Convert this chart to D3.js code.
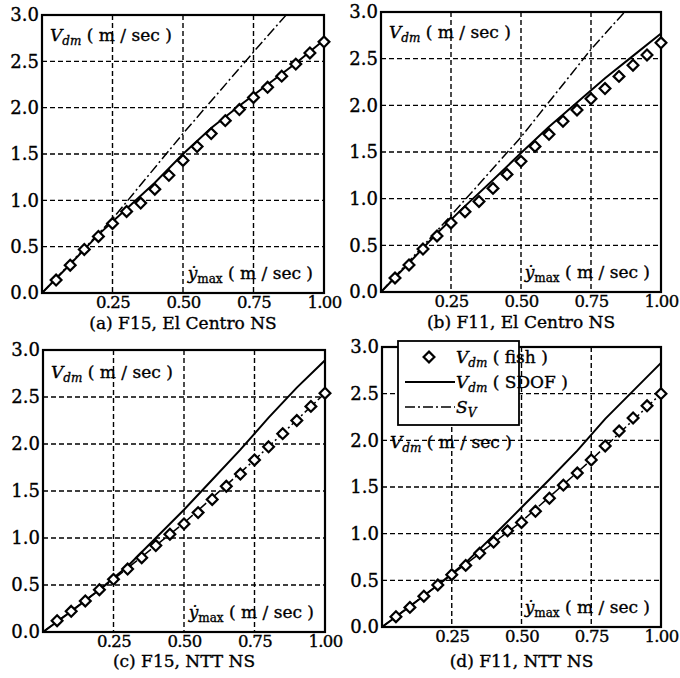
<!DOCTYPE html>
<html>
<head>
<meta charset="utf-8">
<script src="https://cdn.jsdelivr.net/npm/d3@7"></script>
<style>
  body { margin: 0; background: #fff; }
  svg { display: block; }
  text { font-family: "DejaVu Serif", "Liberation Serif", serif; fill: #000; stroke: #000; stroke-width: 0.35px; }
</style>
</head>
<body>
<svg id="chart" width="680" height="678"></svg>
<script>
// ---------------- DATA ----------------
const fishX = [0.05,0.10,0.15,0.20,0.25,0.30,0.35,0.40,0.45,0.50,0.55,0.60,0.65,0.70,0.75,0.80,0.85,0.90,0.95,1.00];
const fishA = [0.14,0.30,0.47,0.61,0.75,0.88,0.97,1.12,1.27,1.43,1.58,1.72,1.86,1.98,2.11,2.22,2.34,2.47,2.59,2.71];
const fishB = [0.15,0.29,0.46,0.60,0.74,0.86,0.97,1.11,1.26,1.40,1.56,1.69,1.83,1.95,2.07,2.18,2.31,2.43,2.54,2.67];
const fishC = [0.12,0.22,0.33,0.45,0.56,0.67,0.79,0.92,1.04,1.15,1.27,1.41,1.55,1.68,1.83,1.97,2.11,2.25,2.40,2.54];
const fishD = [0.11,0.21,0.33,0.45,0.56,0.66,0.79,0.91,1.03,1.12,1.24,1.38,1.52,1.65,1.79,1.94,2.10,2.24,2.37,2.50];

const sdofX = [0,0.1,0.2,0.3,0.4,0.5,0.6,0.7,0.8,0.9,1.0];
const sdofA = [0,0.31,0.63,0.91,1.19,1.50,1.78,2.02,2.25,2.48,2.73];
const sdofB = [0,0.31,0.63,0.92,1.20,1.49,1.77,2.03,2.29,2.53,2.77];
const sdofC = [0,0.22,0.45,0.70,1.00,1.30,1.62,1.94,2.28,2.60,2.89];
const sdofD = [0,0.22,0.45,0.69,0.98,1.28,1.58,1.89,2.23,2.53,2.83];

const svXA = [0,0.25,0.5,0.75,0.866];
const svA  = [0,0.80,1.72,2.60,3.0];
const svXB = [0,0.25,0.5,0.75,0.87];
const svB  = [0,0.82,1.66,2.60,3.0];
const svXC = [0,0.25,0.5,0.75,1.0];
const svC  = [0,0.56,1.16,1.83,2.54];
const svXD = [0,0.25,0.5,0.75,1.0];
const svD  = [0,0.56,1.13,1.79,2.50];

const yTicks = [0.0,0.5,1.0,1.5,2.0,2.5,3.0];
const xTicks = [0.25,0.50,0.75,1.00];
const gridX = [0.25,0.50,0.75];
const gridY = [0.5,1.0,1.5,2.0,2.5];

const captions = ["(a) F15, El Centro NS","(b) F11, El Centro NS","(c) F15, NTT NS","(d) F11, NTT NS"];
const legendLabels = [["V","dm"," ( fish )"],["V","dm"," ( SDOF )"],["S","V",""]];

// ---------------- LAYOUT ----------------
const layout = [
  {left:42,  top:15,  w:282, h:278, vLabelY:2.72, caption:329},
  {left:381, top:12,  w:280, h:280, vLabelY:2.72, caption:328},
  {left:43,  top:350, w:282, h:282, vLabelY:2.70, caption:667},
  {left:382, top:347, w:279, h:280, vLabelY:1.92, caption:667}
];
const fishSets = [fishA,fishB,fishC,fishD];
const sdofSets = [sdofA,sdofB,sdofC,sdofD];
const svSets = [[svXA,svA],[svXB,svB],[svXC,svC],[svXD,svD]];

const svg = d3.select("#chart");
const diamond = "M0,-5.4L5.4,0L0,5.4L-5.4,0Z";

layout.forEach((L, i) => {
  const x = d3.scaleLinear().domain([0,1]).range([0, L.w]);
  const y = d3.scaleLinear().domain([0,3]).range([L.h, 0]);
  const g = svg.append("g").attr("transform", `translate(${L.left},${L.top})`);

  const clipId = "clip" + i;
  g.append("clipPath").attr("id", clipId).append("rect")
    .attr("x", 0).attr("y", 0).attr("width", L.w).attr("height", L.h);

  // grid
  g.selectAll(".gx").data(gridX).join("line")
    .attr("x1", d => x(d)).attr("x2", d => x(d)).attr("y1", 0).attr("y2", L.h)
    .attr("stroke", "#000").attr("stroke-width", 1.4).attr("stroke-dasharray", "5,3");
  g.selectAll(".gy").data(gridY).join("line")
    .attr("y1", d => y(d)).attr("y2", d => y(d)).attr("x1", 0).attr("x2", L.w)
    .attr("stroke", "#000").attr("stroke-width", 1.4).attr("stroke-dasharray", "5,3");

  // axes
  const ya = d3.axisLeft(y).tickValues(yTicks).tickFormat(d3.format(".1f")).tickSize(0).tickPadding(3);
  const yg = g.append("g").call(ya);
  yg.select(".domain").remove();
  yg.selectAll("text").attr("font-size", 18).style("font-family", '"DejaVu Serif", serif').attr("fill", "#000");

  const xa = d3.axisBottom(x).tickValues(xTicks).tickFormat(d3.format(".2f")).tickSize(0).tickPadding(3);
  const xg = g.append("g").attr("transform", `translate(0,${L.h})`).call(xa);
  xg.select(".domain").remove();
  xg.selectAll("text").attr("font-size", 16.5).attr("letter-spacing", "-0.7px")
    .style("font-family", '"DejaVu Serif", serif').attr("fill", "#000");

  const plot = g.append("g").attr("clip-path", `url(#${clipId})`);

  // Sv dash-dot
  const [svx, svy] = svSets[i];
  const svData = svx.map((v, k) => [v, svy[k]]);
  plot.append("path").datum(svData)
    .attr("d", d3.line().x(d => x(d[0])).y(d => y(d[1])))
    .attr("fill", "none").attr("stroke", "#000").attr("stroke-width", 1.5)
    .attr("stroke-dasharray", "10,3,2,3");

  // SDOF solid
  const sd = sdofX.map((v, k) => [v, sdofSets[i][k]]);
  plot.append("path").datum(sd)
    .attr("d", d3.line().x(d => x(d[0])).y(d => y(d[1])))
    .attr("fill", "none").attr("stroke", "#000").attr("stroke-width", 2);

  // box
  g.append("rect").attr("x", 0).attr("y", 0).attr("width", L.w).attr("height", L.h)
    .attr("fill", "none").attr("stroke", "#000").attr("stroke-width", 2.2);

  // fish diamonds
  const fd = fishX.map((v, k) => [v, fishSets[i][k]]);
  g.selectAll(".dm").data(fd).join("path")
    .attr("d", diamond)
    .attr("transform", d => `translate(${x(d[0])},${y(d[1])})`)
    .attr("fill", "#fff").attr("stroke", "#000").attr("stroke-width", 2.2);

  // V_dm label
  const vt = g.append("text").attr("x", 8).attr("y", y(L.vLabelY)).attr("font-size", 17);
  vt.append("tspan").attr("font-style", "italic").text("V");
  vt.append("tspan").attr("font-style", "italic").attr("font-size", 12).attr("dy", 4).text("dm");
  vt.append("tspan").attr("dy", -4).text(" ( m / sec )");

  // ydot max label
  const xt = g.append("text").attr("x", L.w - 11).attr("y", y(0.15)).attr("font-size", 17)
    .attr("text-anchor", "end");
  xt.append("tspan").attr("font-style", "italic").text("\u1E8F");
  xt.append("tspan").attr("font-size", 12).attr("dy", 4).text("max");
  xt.append("tspan").attr("dy", -4).text(" ( m / sec )");

  // caption
  svg.append("text").attr("x", L.left + L.w / 2).attr("y", L.caption)
    .attr("text-anchor", "middle").attr("font-size", 17).text(captions[i]);
});

// ---------------- LEGEND (panel d) ----------------
const lg = svg.append("g").attr("transform", "translate(398,341)");
lg.append("rect").attr("x", 0).attr("y", 0).attr("width", 121).attr("height", 84)
  .attr("fill", "#fff").attr("stroke", "#000").attr("stroke-width", 1.8);
const rowY = [16, 41, 66];
lg.append("path").attr("d", diamond).attr("transform", `translate(31,${rowY[0]})`)
  .attr("fill", "#fff").attr("stroke", "#000").attr("stroke-width", 2.2);
lg.append("line").attr("x1", 7).attr("x2", 57).attr("y1", rowY[1]).attr("y2", rowY[1])
  .attr("stroke", "#000").attr("stroke-width", 2);
lg.append("line").attr("x1", 7).attr("x2", 57).attr("y1", rowY[2]).attr("y2", rowY[2])
  .attr("stroke", "#000").attr("stroke-width", 1.5).attr("stroke-dasharray", "10,3,2,3");
legendLabels.forEach((lab, k) => {
  const t = lg.append("text").attr("x", 58).attr("y", rowY[k] + 6).attr("font-size", 17);
  t.append("tspan").attr("font-style", "italic").text(lab[0]);
  t.append("tspan").attr("font-style", "italic").attr("font-size", 12).attr("dy", 4).text(lab[1]);
  if (lab[2]) t.append("tspan").attr("dy", -4).text(lab[2]);
});
</script>
</body>
</html>
